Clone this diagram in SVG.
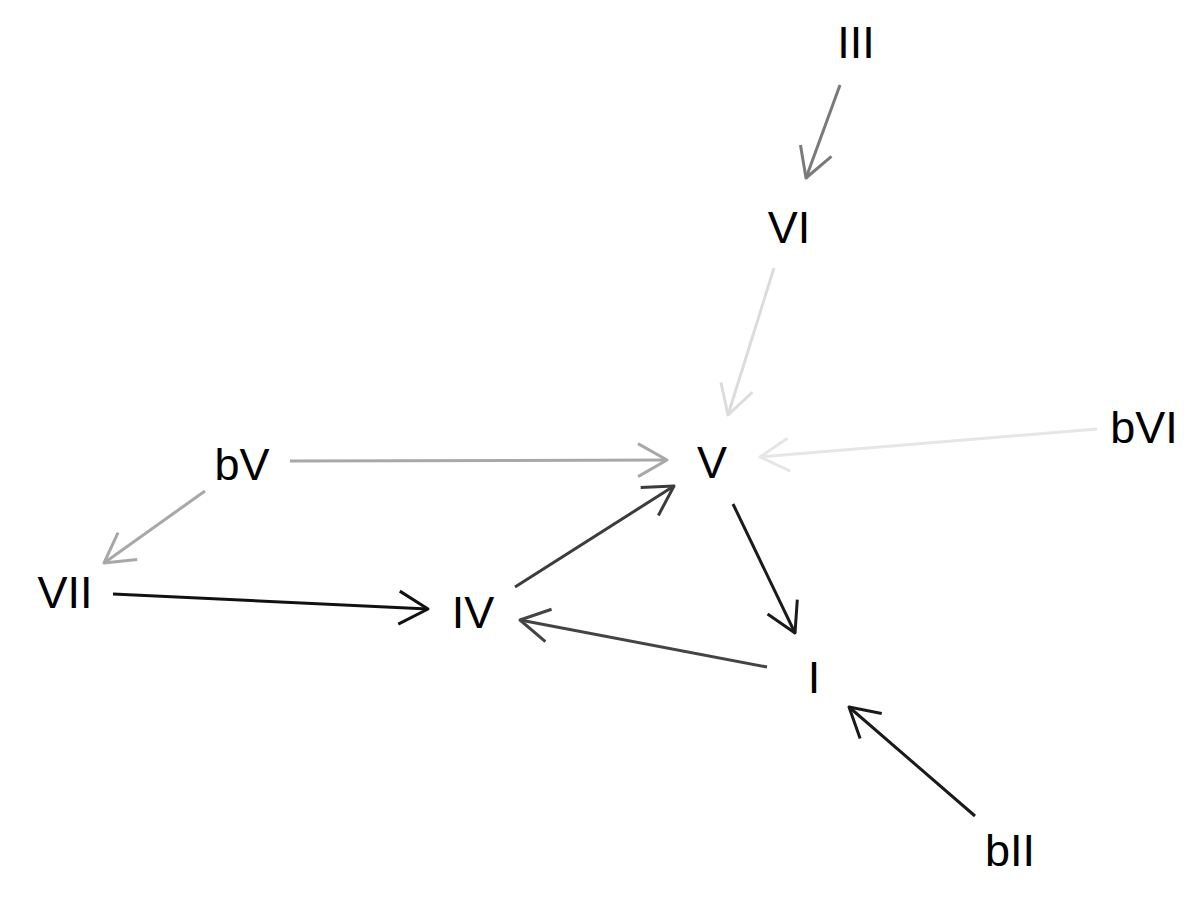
<svg xmlns="http://www.w3.org/2000/svg" width="1200" height="900" viewBox="0 0 1200 900">
  <style>
    .lbl { font-family: "Liberation Sans", Arial, sans-serif; font-size: 45px; fill: #000; text-anchor: middle; }
    .edge { fill: none; stroke-width: 3; stroke-linecap: butt; }
    .head { fill: none; stroke-width: 3; stroke-linejoin: round; }
  </style>
  <defs>
    <marker id="a777" viewBox="-35 -20 40 40" refX="0" refY="0" markerWidth="40" markerHeight="40" markerUnits="userSpaceOnUse" orient="auto"><path class="head" stroke="#7a7a7a" d="M-29,-16.5 L0,0 L-29,16.5"/></marker>
    <marker id="addd" viewBox="-35 -20 40 40" refX="0" refY="0" markerWidth="40" markerHeight="40" markerUnits="userSpaceOnUse" orient="auto"><path class="head" stroke="#dcdcdc" d="M-29,-16.5 L0,0 L-29,16.5"/></marker>
    <marker id="ae6" viewBox="-35 -20 40 40" refX="0" refY="0" markerWidth="40" markerHeight="40" markerUnits="userSpaceOnUse" orient="auto"><path class="head" stroke="#e6e6e6" d="M-29,-16.5 L0,0 L-29,16.5"/></marker>
    <marker id="aaa" viewBox="-35 -20 40 40" refX="0" refY="0" markerWidth="40" markerHeight="40" markerUnits="userSpaceOnUse" orient="auto"><path class="head" stroke="#a8a8a8" d="M-29,-16.5 L0,0 L-29,16.5"/></marker>
    <marker id="a111" viewBox="-35 -20 40 40" refX="0" refY="0" markerWidth="40" markerHeight="40" markerUnits="userSpaceOnUse" orient="auto"><path class="head" stroke="#111" d="M-29,-16.5 L0,0 L-29,16.5"/></marker>
    <marker id="a3c" viewBox="-35 -20 40 40" refX="0" refY="0" markerWidth="40" markerHeight="40" markerUnits="userSpaceOnUse" orient="auto"><path class="head" stroke="#3c3c3c" d="M-29,-16.5 L0,0 L-29,16.5"/></marker>
    <marker id="a1a" viewBox="-35 -20 40 40" refX="0" refY="0" markerWidth="40" markerHeight="40" markerUnits="userSpaceOnUse" orient="auto"><path class="head" stroke="#1a1a1a" d="M-29,-16.5 L0,0 L-29,16.5"/></marker>
    <marker id="a44" viewBox="-35 -20 40 40" refX="0" refY="0" markerWidth="40" markerHeight="40" markerUnits="userSpaceOnUse" orient="auto"><path class="head" stroke="#444" d="M-29,-16.5 L0,0 L-29,16.5"/></marker>
  </defs>

  <g id="connectors">
    <line class="edge" stroke="#7a7a7a" x1="840" y1="85" x2="806" y2="178" marker-end="url(#a777)"/>
    <line class="edge" stroke="#dcdcdc" x1="774" y1="268" x2="728" y2="415" marker-end="url(#addd)"/>
    <line class="edge" stroke="#e6e6e6" x1="1097" y1="429" x2="760" y2="457" marker-end="url(#ae6)"/>
    <line class="edge" stroke="#a8a8a8" x1="290" y1="461" x2="667" y2="460" marker-end="url(#aaa)"/>
    <line class="edge" stroke="#a8a8a8" x1="205" y1="491" x2="104" y2="563" marker-end="url(#aaa)"/>
    <line class="edge" stroke="#111" x1="113" y1="594" x2="428" y2="609" marker-end="url(#a111)"/>
    <line class="edge" stroke="#3c3c3c" x1="515" y1="587" x2="674" y2="486" marker-end="url(#a3c)"/>
    <line class="edge" stroke="#1a1a1a" x1="733" y1="504" x2="795" y2="633" marker-end="url(#a1a)"/>
    <line class="edge" stroke="#444" x1="767" y1="667" x2="520" y2="620" marker-end="url(#a44)"/>
    <line class="edge" stroke="#1a1a1a" x1="975" y1="816" x2="849" y2="707" marker-end="url(#a1a)"/>
  </g>

  <g id="node-III"><text class="lbl" x="856" y="58">III</text></g>
  <g id="node-VI"><text class="lbl" x="789" y="243">VI</text></g>
  <g id="node-V"><text class="lbl" x="712" y="478">V</text></g>
  <g id="node-bVI"><text class="lbl" x="1144" y="443">bVI</text></g>
  <g id="node-bV"><text class="lbl" x="242" y="480">bV</text></g>
  <g id="node-VII"><text class="lbl" x="65" y="608">VII</text></g>
  <g id="node-IV"><text class="lbl" x="473" y="628">IV</text></g>
  <g id="node-I"><text class="lbl" x="814" y="693">I</text></g>
  <g id="node-bII"><text class="lbl" x="1010" y="866">bII</text></g>
</svg>
